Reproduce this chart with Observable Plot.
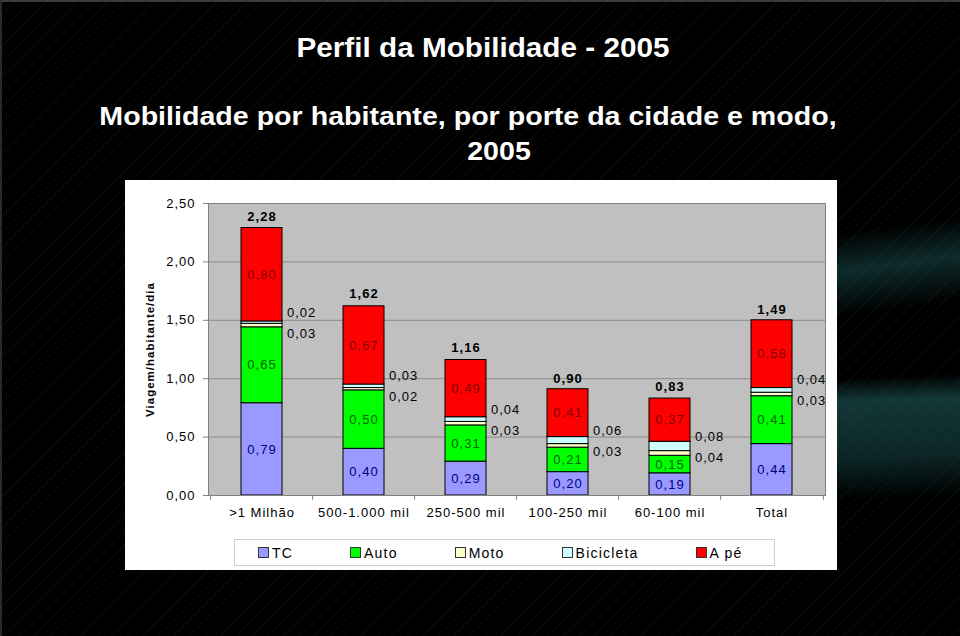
<!DOCTYPE html>
<html>
<head>
<meta charset="utf-8">
<script src="https://cdn.jsdelivr.net/npm/d3@7"></script>
<script src="https://cdn.jsdelivr.net/npm/@observablehq/plot@0.6"></script>
<style>
  html, body { margin: 0; padding: 0; }
  body {
    width: 960px; height: 636px; overflow: hidden; position: relative;
    background:
      linear-gradient(172deg, rgba(0,0,0,0) 15%, rgba(30,95,95,0.45) 45%, rgba(0,0,0,0) 80%) 837px 215px / 125px 110px no-repeat,
      linear-gradient(178deg, rgba(0,0,0,0) 5%, rgba(35,100,100,0.55) 22%, rgba(25,80,80,0.45) 65%, rgba(0,0,0,0) 95%) 837px 372px / 125px 130px no-repeat,
      repeating-linear-gradient(135deg, rgba(255,255,255,0.03) 0px, rgba(255,255,255,0.03) 1px, rgba(0,0,0,0) 2px, rgba(0,0,0,0) 11px),
      #000;
    font-family: "Liberation Sans", Arial, sans-serif;
    border-top: 2px solid #3a3a3a; border-left: 2px solid #2a2a2a; box-sizing: border-box;
  }
  .title {
    position: absolute; width: 960px; text-align: center; white-space: nowrap;
    color: #fff; font-weight: bold;
    transform: scaleX(1.1); transform-origin: 50% 0;
  }
  #panel {
    position: absolute; left: 123px; top: 178px; width: 712px; height: 390px;
    background: #fff;
  }
  #chart { position: absolute; left: 0; top: 0; }
  #chart svg text { letter-spacing: 1px; }
  #chart svg g[aria-label="ytitle"] text { letter-spacing: 0px; }
  #chart svg g[aria-label="totals"] text { letter-spacing: 0.5px; }
  #legend {
    position: absolute; left: 109px; top: 359px; width: 541px; height: 27px;
    border: 1px solid #cfcfcf; background: #fff; box-sizing: border-box;
    display: flex; align-items: center; padding-left: 23px;
    gap: 57px; font-size: 14px; letter-spacing: 1.2px; color: #000;
  }
  #legend .item { display: flex; align-items: center; }
  #legend .sw { width: 9px; height: 9px; border: 1px solid #333; margin-right: 3px; }
</style>
</head>
<body>
<div class="title" style="left:1px; top:30px; font-size:27px; line-height:32px">Perfil da Mobilidade - 2005</div>
<div class="title" style="left:-14px; top:97px; font-size:26px; line-height:35px">Mobilidade por habitante, por porte da cidade e modo,</div>
<div class="title" style="left:17px; top:132px; font-size:26px; line-height:35px">2005</div>
<div id="panel">
  <div id="chart"></div>
  <div id="legend"></div>
</div>
<script>
const categories = [">1 Milhão", "500-1.000 mil", "250-500 mil", "100-250 mil", "60-100 mil", "Total"];
const modes = ["TC", "Auto", "Moto", "Bicicleta", "A pé"];
const tc        = [0.79, 0.40, 0.29, 0.20, 0.19, 0.44];
const auto      = [0.65, 0.50, 0.31, 0.21, 0.15, 0.41];
const moto      = [0.03, 0.02, 0.03, 0.03, 0.04, 0.03];
const bicicleta = [0.02, 0.03, 0.04, 0.06, 0.08, 0.04];
const ape       = [0.80, 0.67, 0.49, 0.41, 0.37, 0.58];
const totals    = [2.28, 1.62, 1.16, 0.90, 0.83, 1.49];
const yTicks = [0, 0.5, 1, 1.5, 2, 2.5];
const yTitle = "Viagem/habitante/dia";
const modeColors = ["#9999ff", "#00ff00", "#ffffcc", "#ccffff", "#ff0000"];
const labelColors = ["#000080", "#006400", "#000000", "#000000", "#800000"];

const fmt = d => d.toFixed(2).replace(".", ",");
const series = [tc, auto, moto, bicicleta, ape];

// long table with stacked extents
const rows = [];
categories.forEach((cat, i) => {
  let base = 0;
  series.forEach((s, m) => {
    rows.push({cat, mode: modes[m], value: s[i], y1: base, y2: base + s[i], m});
    base += s[i];
  });
});
const inside = rows.filter(r => r.mode === "TC" || r.mode === "Auto" || r.mode === "A pé");
const side = [];
categories.forEach((cat, i) => {
  const mo = rows.find(r => r.cat === cat && r.mode === "Moto");
  const bi = rows.find(r => r.cat === cat && r.mode === "Bicicleta");
  const mid = (mo.y1 + bi.y2) / 2;
  side.push({cat, y: mid, value: bi.value, pos: "up"});
  side.push({cat, y: mid, value: mo.value, pos: "down"});
});
const totalRows = categories.map((cat, i) => ({cat, total: totals[i]}));

const W = 712, H = 355, ML = 83, MR = 12, MT = 23, MB = 40;
const step = (W - ML - MR) / categories.length;

const chart = Plot.plot({
  width: W, height: H,
  marginLeft: ML, marginRight: MR, marginTop: MT, marginBottom: MB,
  style: {background: "transparent", fontFamily: "'Liberation Sans', Arial, sans-serif", fontSize: "13px", color: "#000", overflow: "visible"},
  x: {domain: categories, paddingInner: 0.6, paddingOuter: 0.3, label: null},
  y: {domain: [0, 2.5], label: null},
  color: {domain: modes, range: modeColors},
  marks: [
    Plot.frame({fill: "#c0c0c0"}),
    Plot.ruleY(yTicks, {stroke: "#8a8a8a", strokeWidth: 1}),
    Plot.barY(rows, {x: "cat", y1: "y1", y2: "y2", fill: "mode", stroke: "#000", strokeWidth: 1}),
    Plot.text(inside, {x: "cat", y: d => (d.y1 + d.y2) / 2, text: d => fmt(d.value), fill: d => labelColors[d.m], fontSize: 13}),
    Plot.text(side.filter(d => d.pos === "up"), {x: "cat", y: "y", text: d => fmt(d.value), dx: 25, dy: -12, textAnchor: "start", fill: "#000", fontSize: 13}),
    Plot.text(side.filter(d => d.pos === "down"), {x: "cat", y: "y", text: d => fmt(d.value), dx: 25, dy: 9, textAnchor: "start", fill: "#000", fontSize: 13}),
    Plot.text(totalRows, {x: "cat", y: "total", text: d => fmt(d.total), dy: -12, fontWeight: "bold", fill: "#000", fontSize: 13, ariaLabel: "totals"}),
    Plot.frame({stroke: "#808080"}),
    Plot.axisY({ticks: yTicks, tickFormat: fmt, tickSize: 5, tickPadding: 8, stroke: "#808080", fill: "#000", fontSize: 13, label: null}),
    Plot.axisX({tickSize: 0, tickPadding: 12, fill: "#000", fontSize: 13, label: null}),
    Plot.ruleX(categories, {x: d => d, y1: 0, y2: -0.04, dx: -step / 2, stroke: "#808080"}),
    Plot.ruleX(categories.slice(-1), {x: d => d, y1: 0, y2: -0.04, dx: step / 2, stroke: "#808080"}),
    Plot.text([yTitle], {frameAnchor: "left", textAnchor: "middle", text: d => d, rotate: -90, dx: -58, fontWeight: "bold", fontSize: 11.5, fill: "#000", ariaLabel: "ytitle"})
  ]
});
document.getElementById("chart").appendChild(chart);

const legend = document.getElementById("legend");
modes.forEach((m, i) => {
  const item = document.createElement("div");
  item.className = "item";
  const sw = document.createElement("span");
  sw.className = "sw";
  sw.style.background = modeColors[i];
  const t = document.createElement("span");
  t.textContent = m;
  item.appendChild(sw);
  item.appendChild(t);
  legend.appendChild(item);
});
</script>
</body>
</html>
